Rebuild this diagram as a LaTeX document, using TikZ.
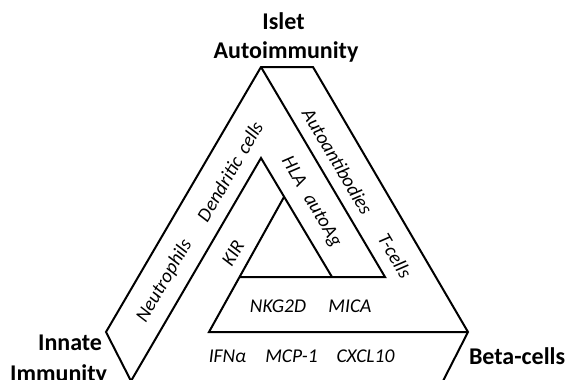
\documentclass[tikz,border=0pt]{standalone}
\usepackage{fontspec}
\setmainfont{Carlito}

\begin{document}
\begin{tikzpicture}[x=1pt,y=-1pt,line width=2pt,
  corner/.style={font=\fontsize{24}{28}\selectfont\bfseries,inner sep=0pt},
  item/.style={font=\fontsize{19.5}{22}\selectfont\itshape,inner sep=0pt}]
\clip (0,0) rectangle (573,380);
% outer frame
\draw (131,381)--(106,332)--(261,67)--(313,67)--(468,332)--(443,381);
% inner lines
\draw (131,381)--(261,158)--(332,277);
\draw (261,67)--(385,277)--(240,277);
\draw (284,197)--(209,332)--(468,332);
% corner labels
\node[corner,anchor=base] (islet) at (283.5,29) {Islet};
\node[corner,anchor=base] (autoimm) at (286,58) {Autoimmunity};
\node[corner,anchor=base east] (innate) at (103,350) {Innate};
\node[corner,anchor=base east] (immunity) at (108,381) {Immunity};
\node[corner,anchor=base west] (beta) at (468,364) {Beta-cells};
% left side
\node[item,rotate=59.7] (neutro) at (164.5,281) {Neutrophils};
\node[item,rotate=59.7] (dendritic) at (230,171.5) {Dendritic\hspace{0.35em}cells};
\node[item,rotate=59.7] (kir) at (233,253) {KIR};
% right side
\node[item,rotate=-59.5] (autoab) at (337.5,161.5) {Autoantibodies};
\node[item,rotate=-59.5] (tcells) at (395,256) {T-cells};
\node[item,rotate=-59.5] (hla) at (311,202) {HLA\hspace{0.6em}autoAg};
% bottom side
\node[item,anchor=base] (nkg) at (278,312) {NKG2D};
\node[item,anchor=base] (mica) at (350,312) {MICA};
\node[item,anchor=base] (ifn) at (227.5,362) {IFNα};
\node[item,anchor=base] (mcp) at (291.5,362) {MCP-1};
\node[item,anchor=base] (cxcl) at (365.5,362) {CXCL10};
\end{tikzpicture}
\end{document}
